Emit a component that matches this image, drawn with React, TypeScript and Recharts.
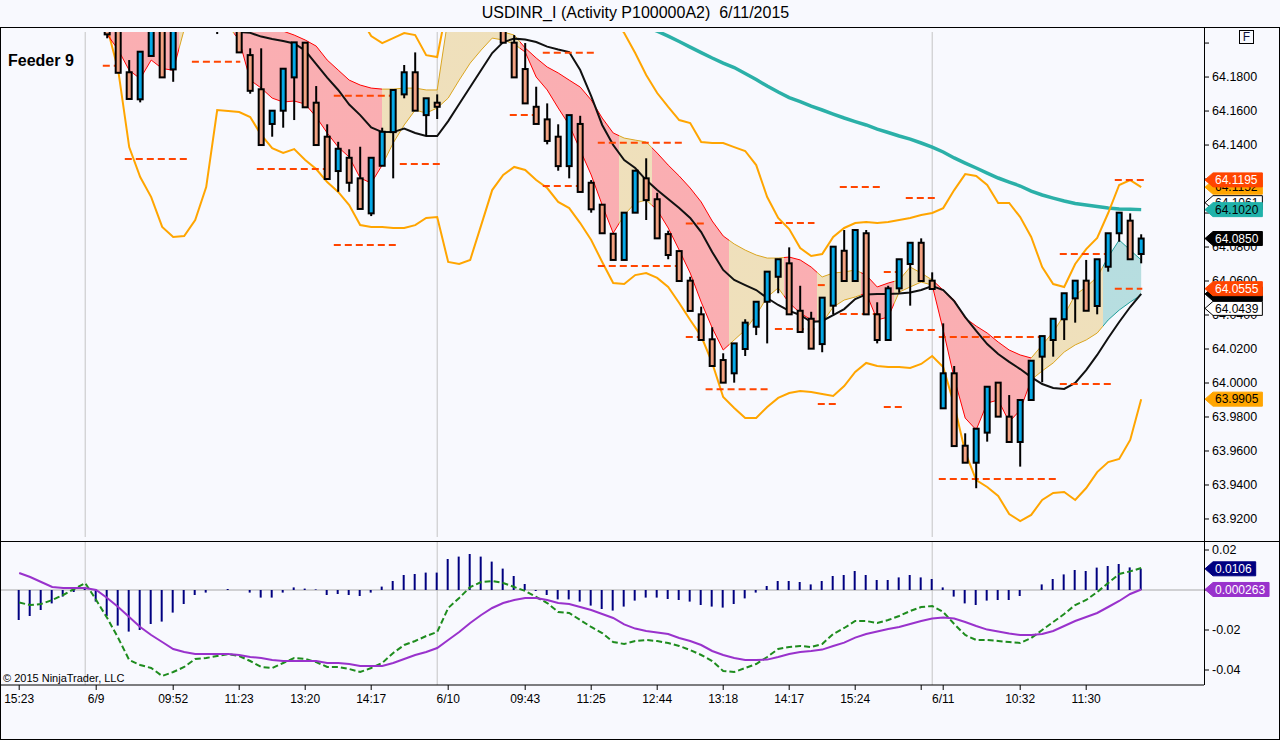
import React from 'react';
import { ComposedChart, Bar, Line, Area, XAxis, YAxis, ReferenceLine, ReferenceDot } from 'recharts';

const FONT = '"Liberation Sans", Arial, Helvetica, sans-serif';

// ---------- categories / ticks ----------
const XTICKS = [0, 7, 14, 20, 26, 32, 39, 46, 52, 58, 64, 70, 76, 82, 84, 91, 97];
const XLABELS = ['15:23', '6/9', '09:52', '11:23', '13:20', '14:17', '6/10', '09:43', '11:25', '12:44', '13:18', '14:17', '15:24', '', '6/11', '10:32', '11:30'];
const SESSION_BREAKS = [6, 38, 83];
const PRICE_TICKS = [64.2, 64.18, 64.16, 64.14, 64.12, 64.1, 64.08, 64.06, 64.04, 64.02, 64.0, 63.98, 63.96, 63.94, 63.92];
// tick values whose labels are fully covered by value tags in the reference
const HIDDEN_PRICE_LABELS = [64.2, 64.12, 64.1];
const MACD_TICKS = [0.02, 0, -0.02, -0.04];

// ---------- candles ----------
const OPEN = [
  64.262, 64.258, 64.252, 64.247, 64.25, 64.254, 64.258, 64.248, 64.229, 64.212,
  64.1828, 64.1669, 64.1924, 64.214, 64.1845, 64.213, 64.218, 64.214, 64.211, 64.213,
  64.216, 64.1929, 64.1728, 64.1524, 64.1602, 64.1798, 64.2002, 64.1649, 64.1449, 64.1247,
  64.1325, 64.1204, 64.0998, 64.1278, 64.1476, 64.1698, 64.1828, 64.1576, 64.1649, 64.215,
  64.222, 64.23, 64.226, 64.219, 64.212, 64.2002, 64.1847, 64.1625, 64.1551, 64.1449,
  64.1276, 64.1524, 64.1178, 64.1049, 64.0878, 64.0724, 64.1002, 64.1204, 64.1081, 64.0876,
  64.0776, 64.0602, 64.0404, 64.0257, 64.0135, 64.0057, 64.02, 64.0331, 64.0478, 64.0625,
  64.0704, 64.0425, 64.0378, 64.0229, 64.0455, 64.0778, 64.06, 64.0881, 64.0404, 64.0253,
  64.0557, 64.07, 64.0825, 64.0602, 63.9851, 64.0057, 63.9631, 63.9531, 63.9708, 64.0002,
  63.9802, 63.9653, 63.99, 64.0155, 64.0253, 64.0375, 64.0498, 64.0602, 64.0453, 64.0684,
  64.0881, 64.0955, 64.0759,
];
const HIGH = [
  64.268, 64.262, 64.256, 64.255, 64.258, 64.262, 64.262, 64.25, 64.232, 64.214,
  64.19, 64.1949, 64.216, 64.217, 64.216, 64.222, 64.225, 64.219, 64.216, 64.22,
  64.219, 64.1969, 64.1969, 64.1602, 64.1849, 64.2004, 64.2004, 64.1747, 64.1522, 64.1419,
  64.1375, 64.139, 64.1325, 64.1502, 64.1724, 64.1871, 64.1945, 64.1675, 64.1698, 64.228,
  64.235, 64.238, 64.232, 64.225, 64.215, 64.2047, 64.2, 64.1743, 64.1645, 64.1522,
  64.1576, 64.1572, 64.1194, 64.1049, 64.0878, 64.1002, 64.1249, 64.1322, 64.1119, 64.0896,
  64.0776, 64.0625, 64.0449, 64.0328, 64.0175, 64.0233, 64.0375, 64.0478, 64.0655, 64.0728,
  64.0798, 64.0572, 64.0419, 64.0502, 64.0802, 64.09, 64.09, 64.09, 64.0475, 64.0572,
  64.0728, 64.0825, 64.0851, 64.0651, 64.0351, 64.01, 63.9704, 63.9731, 63.9978, 64.0002,
  63.9929, 63.99, 64.0131, 64.0276, 64.0378, 64.0528, 64.0602, 64.0724, 64.0728, 64.0881,
  64.1002, 64.0998, 64.0875,
];
const LOW = [
  64.255, 64.248, 64.244, 64.242, 64.246, 64.25, 64.245, 64.226, 64.2028, 64.1825,
  64.1671, 64.1651, 64.1924, 64.1798, 64.1772, 64.209, 64.212, 64.208, 64.2053, 64.209,
  64.1945, 64.1702, 64.14, 64.1449, 64.1502, 64.1547, 64.1622, 64.14, 64.12, 64.1125,
  64.1125, 64.1024, 64.0982, 64.1278, 64.1204, 64.1675, 64.1602, 64.1453, 64.1553, 64.208,
  64.216, 64.222, 64.215, 64.209, 64.2002, 64.1798, 64.1645, 64.1524, 64.1404, 64.1249,
  64.1204, 64.1124, 64.1002, 64.0881, 64.0724, 64.0724, 64.1002, 64.0959, 64.0851, 64.0728,
  64.06, 64.0424, 64.0253, 64.01, 64.0002, 64.0002, 64.0159, 64.0282, 64.0233, 64.0528,
  64.0404, 64.03, 64.0202, 64.0181, 64.0404, 64.06, 64.06, 64.0404, 64.0233, 64.0253,
  64.0531, 64.0455, 64.06, 64.0553, 63.9851, 63.9629, 63.9531, 63.9381, 63.9655, 63.9802,
  63.9653, 63.9508, 63.99, 64.0004, 64.0155, 64.0253, 64.0355, 64.0425, 64.0404, 64.0655,
  64.0831, 64.0728, 64.0704,
];
const CLOSE = [
  64.258, 64.252, 64.247, 64.25, 64.254, 64.258, 64.248, 64.229, 64.2051, 64.1825,
  64.1671, 64.1949, 64.214, 64.1798, 64.213, 64.218, 64.214, 64.211, 64.213, 64.216,
  64.1945, 64.1719, 64.14, 64.1602, 64.1849, 64.2004, 64.1622, 64.14, 64.12, 64.1378,
  64.1178, 64.1024, 64.1325, 64.1478, 64.1724, 64.1828, 64.1602, 64.1675, 64.1625, 64.222,
  64.23, 64.226, 64.219, 64.212, 64.2002, 64.1798, 64.1645, 64.1524, 64.1424, 64.1276,
  64.1576, 64.1124, 64.1022, 64.0881, 64.0724, 64.1002, 64.1249, 64.1076, 64.0851, 64.0753,
  64.06, 64.0424, 64.0253, 64.01, 64.0002, 64.0233, 64.0355, 64.0478, 64.0655, 64.0728,
  64.0404, 64.03, 64.0202, 64.0502, 64.0802, 64.06, 64.09, 64.0404, 64.0253, 64.0557,
  64.0728, 64.0825, 64.06, 64.0553, 64.0057, 63.9629, 63.9531, 63.9731, 63.9978, 63.9802,
  63.9653, 63.99, 64.0131, 64.0276, 64.0378, 64.0528, 64.0602, 64.0425, 64.0728, 64.0881,
  64.1002, 64.0728, 64.085,
];

// ---------- overlays ----------
const N = (n: number) => Array(n).fill(null);
const RIBBON_TOP = [
  ...N(7),
  64.222, 64.215, 64.212, 64.21, 64.208, 64.208, 64.207, 64.207, 64.215, 64.22,
  64.22, 64.22, 64.22, 64.215, 64.211, 64.209, 64.208, 64.207, 64.2047, 64.2018,
  64.1982, 64.19, 64.1841, 64.1782, 64.1753, 64.1735, 64.1729, 64.1729, 64.1735, 64.1735,
  64.1724, 64.1724, 64.215, 64.218, 64.218, 64.215, 64.211, 64.2065, 64.2047, 64.1971,
  64.1912, 64.1859, 64.1824, 64.1782, 64.1741, 64.1665, 64.1559, 64.1471, 64.1441, 64.1429,
  64.1418, 64.1353, 64.1282, 64.1218, 64.1147, 64.1065, 64.0953, 64.0865, 64.0818, 64.0782,
  64.0753, 64.0735, 64.0735, 64.0741, 64.0724, 64.0682, 64.0624, 64.0647, 64.0653, 64.0665,
  64.0635, 64.0565, 64.0588, 64.0606, 64.0682, 64.0647, 64.0606, 64.0547, 64.0488, 64.0382,
  64.0335, 64.0294, 64.0241, 64.0194, 64.0165, 64.0147, 64.0224, 64.03, 64.04, 64.0518,
  64.0565, 64.0624, 64.0741, 64.0841, 64.0782, 64.0724,
];
const RIBBON_BOTTOM = [
  ...N(7),
  64.214, 64.205, 64.196, 64.184, 64.179, 64.19, 64.185, 64.184, 64.208, 64.211,
  64.211, 64.211, 64.21, 64.2018, 64.1782, 64.1735, 64.1676, 64.1653, 64.1659, 64.1641,
  64.1565, 64.1471, 64.1388, 64.1329, 64.1206, 64.1176, 64.1282, 64.1412, 64.1518, 64.1606,
  64.1588, 64.1618, 64.1676, 64.1782, 64.1882, 64.1959, 64.2029, 64.2018, 64.1994, 64.1947,
  64.18, 64.1724, 64.1618, 64.1518, 64.1371, 64.1224, 64.1047, 64.0882, 64.0988, 64.1059,
  64.1076, 64.1018, 64.0912, 64.0782, 64.0647, 64.0476, 64.0324, 64.0194, 64.0253, 64.0312,
  64.04, 64.0506, 64.0559, 64.0471, 64.0412, 64.0371, 64.0353, 64.0447, 64.0488, 64.0506,
  64.0529, 64.0371, 64.0388, 64.0535, 64.0565, 64.0594, 64.0576, 64.0312, 64.0029, 63.9794,
  63.9724, 63.9882, 63.99, 63.9771, 63.9841, 64.0018, 64.0071, 64.0118, 64.0182, 64.0224,
  64.0253, 64.0294, 64.0371, 64.0429, 64.0476, 64.0518,
];
const BAND_UPPER = [
  ...N(31),
  64.215, 64.2041, 64.2, 64.2029, 64.2059, 64.2047, 64.1929, 64.1918, 64.225,
  ...N(14),
  64.215, 64.2059, 64.1941, 64.1812, 64.1706, 64.1624, 64.1547, 64.1529, 64.1418, 64.1412,
  64.1412, 64.1388, 64.1365, 64.1282, 64.1094, 64.0971, 64.0906, 64.0794, 64.0747, 64.0759,
  64.0859, 64.0912, 64.0941, 64.0947, 64.0941, 64.0947, 64.0959, 64.0971, 64.0988, 64.1,
  64.1029, 64.1135, 64.1229, 64.1218, 64.1165, 64.1059, 64.1059, 64.0976, 64.0859, 64.0682,
  64.0582, 64.0565, 64.07, 64.0788, 64.0853, 64.1, 64.1165, 64.1194, 64.1152,
];
const BAND_LOWER = [
  ...N(8),
  64.209, 64.1841, 64.1388, 64.1212, 64.1094, 64.0918, 64.0859, 64.0865, 64.0959, 64.1153,
  64.1606, 64.16, 64.1594, 64.1565, 64.1459, 64.1382, 64.1353, 64.1376, 64.1312, 64.1259,
  64.1182, 64.1124, 64.1047, 64.0929, 64.0918, 64.0918, 64.0912, 64.0912, 64.0929, 64.0971,
  64.0976, 64.0712, 64.07, 64.0724, 64.0929, 64.1135, 64.1224, 64.1271, 64.1253, 64.1194,
  64.1147, 64.1065, 64.1029, 64.0941, 64.0841, 64.0712, 64.0588, 64.0582, 64.0635, 64.0647,
  64.0618, 64.0565, 64.0471, 64.0371, 64.0276, 64.0118, 63.9918, 63.9853, 63.9794, 63.9794,
  63.9859, 63.9912, 63.9941, 63.9953, 63.9947, 63.9935, 63.9924, 63.9982, 64.0065, 64.0118,
  64.01, 64.0094, 64.0094, 64.0088, 64.0112, 64.0159, 64.0094, 63.9871, 63.9594, 63.9429,
  63.9388, 63.9335, 63.9229, 63.9188, 63.9224, 63.9312, 63.9353, 63.9359, 63.9312, 63.9382,
  63.9476, 63.9535, 63.9553, 63.9665, 63.9905,
];
const BLACK_MA = [
  ...N(19),
  64.209, 64.2065, 64.206, 64.2038, 64.2024, 64.2012, 64.1997, 64.1956, 64.1876, 64.1797,
  64.1724, 64.1638, 64.1576, 64.1503, 64.1476, 64.1476, 64.1497, 64.1471, 64.1453, 64.1453,
  64.1541, 64.1641, 64.1741, 64.1841, 64.1941, 64.2006, 64.2026, 64.2021, 64.2006, 64.1979,
  64.1962, 64.1947, 64.1841, 64.1688, 64.1518, 64.14, 64.1312, 64.1265, 64.1194, 64.1135,
  64.1082, 64.1029, 64.0971, 64.0888, 64.0771, 64.0665, 64.0606, 64.0576, 64.0547, 64.05,
  64.0459, 64.0424, 64.04, 64.0359, 64.0365, 64.04, 64.0435, 64.0494, 64.0521, 64.0524,
  64.0524, 64.0526, 64.0532, 64.0547, 64.0571, 64.0547, 64.0482, 64.0388, 64.0306, 64.0229,
  64.0171, 64.0124, 64.0082, 64.0035, 63.9994, 63.9971, 63.9965, 64.0, 64.0076, 64.0165,
  64.0265, 64.0359, 64.0447, 64.0524,
];
const TEAL_MA = [
  ...N(57),
  64.2095, 64.207, 64.2041, 64.2009, 64.1976, 64.1944, 64.1912, 64.1882, 64.1856, 64.1821,
  64.1785, 64.1747, 64.1712, 64.1679, 64.1656, 64.1629, 64.1606, 64.1582, 64.1559, 64.1538,
  64.1518, 64.1494, 64.1474, 64.1453, 64.1435, 64.1412, 64.1388, 64.1359, 64.1324, 64.1294,
  64.1265, 64.1235, 64.1206, 64.1182, 64.1159, 64.1129, 64.1106, 64.1088, 64.1071, 64.1056,
  64.1047, 64.1038, 64.1029, 64.1024, 64.1022, 64.102,
];

// dashed price levels: [fromBar, toBar, price]
const LEVELS: [number, number, number][] = [
  [7.6, 9.2, 64.1866], [15.7, 20.1, 64.189], [9.6, 15.3, 64.1318], [21.6, 28.2, 64.1259],
  [28.6, 34.4, 64.0812], [28.6, 34.0, 64.169], [34.6, 38.4, 64.1288], [44.6, 47.3, 64.1576],
  [47.6, 52.6, 64.1943], [47.6, 51.4, 64.1159], [52.6, 60.3, 64.1414], [52.6, 59.8, 64.0688],
  [60.6, 62.5, 64.0938], [60.6, 62.5, 64.0271], [62.4, 68.3, 63.9963], [68.7, 72.3, 64.0941],
  [68.7, 72.3, 64.0318], [72.6, 74.4, 63.9876], [72.6, 73.5, 64.0576], [74.6, 78.4, 64.1153],
  [74.6, 78.4, 64.0406], [78.6, 79.8, 64.0653], [78.6, 80.3, 63.9859], [80.6, 83.4, 64.0312],
  [80.6, 83.4, 64.1088], [83.6, 92.8, 64.0271], [83.6, 94.4, 63.9435], [94.6, 99.4, 64.0759],
  [94.6, 99.4, 63.9994], [99.6, 102.1, 64.0555], [99.6, 102.4, 64.1195],
];

// ---------- lower panel ----------
const HIST = [
  -0.015, -0.013, -0.01, -0.0067, -0.0033, -0.001, 0.001, -0.0058, -0.013, -0.0178,
  -0.0208, -0.02, -0.017, -0.0158, -0.0113, -0.007, -0.0025, -0.0013, 0, 0.0005,
  0, -0.0013, -0.0038, -0.0038, -0.0013, 0.0013, 0.0007, 0.0003, -0.0025, -0.002,
  -0.0025, -0.003, -0.0013, 0.0017, 0.0045, 0.0075, 0.008, 0.0087, 0.0087, 0.0155,
  0.0167, 0.018, 0.0167, 0.0142, 0.0107, 0.007, 0.003, -0.0005, -0.0025, -0.0047,
  -0.0047, -0.0058, -0.0078, -0.0095, -0.0103, -0.0083, -0.0053, -0.0038, -0.0038, -0.0045,
  -0.005, -0.0058, -0.0075, -0.0083, -0.0088, -0.007, -0.0042, -0.0013, 0.002, 0.0045,
  0.0045, 0.004, 0.0028, 0.0045, 0.007, 0.0075, 0.0095, 0.0075, 0.005, 0.005,
  0.0063, 0.0075, 0.0063, 0.0055, 0.0013, -0.0033, -0.0067, -0.0075, -0.0053, -0.005,
  -0.005, -0.003, 0, 0.0028, 0.0055, 0.0078, 0.01, 0.0095, 0.0112, 0.012,
  0.013, 0.0113, 0.0106,
];
const MACD = [
  -0.0063, -0.0075, -0.007, -0.005, -0.0025, 0.0005, 0.0035, -0.005, -0.014, -0.024,
  -0.035, -0.0375, -0.039, -0.043, -0.041, -0.0385, -0.0345, -0.034, -0.033, -0.032,
  -0.033, -0.0355, -0.0385, -0.039, -0.0365, -0.034, -0.0345, -0.036, -0.0385, -0.0385,
  -0.0395, -0.041, -0.039, -0.0365, -0.0315, -0.0275, -0.0255, -0.023, -0.021, -0.009,
  -0.004, 0.0015, 0.004, 0.0045, 0.0035, 0.0015, -0.0005, -0.0035, -0.0065, -0.011,
  -0.0115, -0.015, -0.0185, -0.0215, -0.026, -0.027, -0.0255, -0.025, -0.0255, -0.0265,
  -0.028, -0.03, -0.0325, -0.0355, -0.0405, -0.041, -0.039, -0.037, -0.0335, -0.0295,
  -0.0285, -0.028, -0.0285, -0.027, -0.022, -0.019, -0.0155, -0.0155, -0.0165, -0.015,
  -0.013, -0.0105, -0.0085, -0.008, -0.011, -0.017, -0.0225, -0.025, -0.025, -0.0255,
  -0.026, -0.0265, -0.024, -0.02, -0.016, -0.012, -0.0075, -0.005, -0.001, 0.0035,
  0.008, 0.0093, 0.011,
];
const SIGNAL = [
  0.0085, 0.0065, 0.004, 0.0015, 0.001, 0.001, 0.001, 0, -0.004, -0.0085,
  -0.0135, -0.0185, -0.0225, -0.026, -0.0295, -0.031, -0.032, -0.032, -0.032, -0.032,
  -0.0325, -0.0335, -0.034, -0.035, -0.0355, -0.0355, -0.0355, -0.0355, -0.0365, -0.0365,
  -0.037, -0.038, -0.038, -0.038, -0.0365, -0.0345, -0.0325, -0.031, -0.029, -0.025,
  -0.021, -0.0165, -0.0125, -0.009, -0.0065, -0.005, -0.004, -0.004, -0.005, -0.0065,
  -0.007, -0.0085, -0.01, -0.012, -0.014, -0.0172, -0.0193, -0.0205, -0.0213, -0.022,
  -0.024, -0.0255, -0.0275, -0.0305, -0.0325, -0.034, -0.035, -0.035, -0.0348, -0.0335,
  -0.032, -0.031, -0.0305, -0.0298, -0.028, -0.0263, -0.0238, -0.022, -0.0208, -0.0195,
  -0.0185, -0.017, -0.0155, -0.0143, -0.0138, -0.0143, -0.016, -0.018, -0.0198, -0.0208,
  -0.0218, -0.0225, -0.0225, -0.022, -0.0205, -0.018, -0.0155, -0.0135, -0.0115, -0.0085,
  -0.0055, -0.002, 0.000263,
];

// right-axis value tags (drawn in this order)
const PRICE_TAGS = [
  { v: 64.1152, label: '64.1152', bg: '#FFA500', fg: '#000', border: '#FFA500' },
  { v: 64.1195, label: '64.1195', bg: '#FF4500', fg: '#FFF', border: '#FF4500' },
  { v: 64.1061, label: '64.1061', bg: '#FFFFFF', fg: '#000', border: '#000' },
  { v: 64.102, label: '64.1020', bg: '#20B2AA', fg: '#000', border: '#20B2AA' },
  { v: 64.085, label: '64.0850', bg: '#000000', fg: '#FFF', border: '#000' },
  { v: 64.0524, label: '', bg: '#000000', fg: '#FFF', border: '#000' },
  { v: 64.0555, label: '64.0555', bg: '#FF4500', fg: '#FFF', border: '#FF4500' },
  { v: 64.0439, label: '64.0439', bg: '#FFFFFF', fg: '#000', border: '#000' },
  { v: 63.9905, label: '63.9905', bg: '#FFA500', fg: '#000', border: '#FFA500' },
];
const MACD_TAGS = [
  { v: 0.0106, label: '0.0106', bg: '#000080', fg: '#FFF', border: '#000080' },
  { v: 0.000263, label: '0.000263', bg: '#9932CC', fg: '#FFF', border: '#9932CC' },
];

// ribbon colour by bar region (style)
const RIBBON_SEGMENTS: [number, string][] = [
  [-2, '#FF0000'], [14.5, '#DAA520'], [19.5, '#FF0000'], [33, '#DAA520'], [45.5, '#FF0000'],
  [54.5, '#DAA520'], [57.5, '#FF0000'], [64.5, '#DAA520'], [69.5, '#FF0000'], [72.5, '#DAA520'],
  [76.5, '#FF0000'], [79.5, '#DAA520'], [83, '#FF0000'], [92, '#DAA520'], [98.5, '#1F9E9A'],
];

// ---------- layout constants ----------
const W = 1280;
const AXIS_W = 76;
const PLOT_W = W - AXIS_W; // 1204
const X0 = -1.745;
const X1 = 107.71;
const P_MAX = 64.2065;
const P_MIN = 63.9094;
const M_MAX = 0.0245;
const M_MIN = -0.0475;
const SALMON = '#F3A282';
const BLUE = '#05A8E6';
const TAG_FS = 12;
const TICK_FS = 12.5;

const rows = OPEN.map((o, i) => ({
  i,
  o,
  h: HIGH[i],
  l: LOW[i],
  c: CLOSE[i],
  rt: RIBBON_TOP[i],
  rb: RIBBON_BOTTOM[i],
  up: BAND_UPPER[i],
  lo: BAND_LOWER[i],
  bk: BLACK_MA[i],
  tl: TEAL_MA[i],
  hist: HIST[i],
  macd: MACD[i],
  sig: SIGNAL[i],
}));

const frac = (v: number) => Math.max(0, Math.min(1, (v - X0) / (X1 - X0)));

function gradientStops(opacity: number) {
  const out: React.ReactElement[] = [];
  RIBBON_SEGMENTS.forEach(([start, color], k) => {
    const end = k + 1 < RIBBON_SEGMENTS.length ? RIBBON_SEGMENTS[k + 1][0] : X1;
    out.push(<stop key={k + 'a'} offset={frac(start)} stopColor={color} stopOpacity={opacity} />);
    out.push(<stop key={k + 'b'} offset={frac(end)} stopColor={color} stopOpacity={opacity} />);
  });
  return out;
}

const Candle = (props: any) => {
  const { x, y, width, height, payload } = props;
  if (!payload || x == null || y == null) return null;
  const top = Math.min(y, y + height);
  const bot = Math.max(y, y + height);
  const cx = x + width / 2;
  const range = payload.h - payload.l;
  const k = range > 0 ? (bot - top) / range : 0;
  const yO = top + (payload.h - payload.o) * k;
  const yC = top + (payload.h - payload.c) * k;
  const bTop = Math.min(yO, yC);
  const bH = Math.max(Math.abs(yO - yC), 1.5);
  const isUp = payload.c >= payload.o;
  return (
    <g>
      <line x1={cx} x2={cx} y1={top} y2={bot} stroke="#000" strokeWidth={2} />
      <rect x={cx - 2.5} y={bTop} width={5} height={bH} fill={isUp ? BLUE : SALMON} stroke="#000" strokeWidth={2} />
    </g>
  );
};

const charW = (s: string, fs: number) =>
  s.split('').reduce((a, ch) => a + (ch === '.' ? 0.278 : ch === '-' ? 0.333 : 0.556), 0) * fs;

const tagShape = (t: any) => (props: any) => {
  const { cx, cy } = props;
  if (cx == null || cy == null) return <g />;
  const x0 = cx + 1;
  const x1 = x0 + 10 + charW(t.label || '64.0000', TAG_FS) + 4;
  const h = 7;
  const pts = `${x0},${cy} ${x0 + 8},${cy - h} ${x1},${cy - h} ${x1},${cy + h} ${x0 + 8},${cy + h}`;
  return (
    <g>
      <polygon points={pts} fill={t.bg} stroke={t.border} strokeWidth={1} />
      {t.label ? (
        <text x={x0 + 10} y={cy + 4.3} fontSize={TAG_FS} fontFamily={FONT} fill={t.fg}>
          {t.label}
        </text>
      ) : null}
    </g>
  );
};

const fmtPrice = (v: number) =>
  HIDDEN_PRICE_LABELS.some((h) => Math.abs(h - v) < 1e-6) ? '' : v.toFixed(4);
// the zero label sits under the signal tag in the reference
const fmtMacd = (v: number) => (v === 0 ? '' : String(v));
const fmtX = (v: number) => {
  const k = XTICKS.indexOf(v);
  return k >= 0 ? XLABELS[k] : '';
};

export default function App() {
  const line = (key: string, color: string, width: number, z: number, extra: any = {}) => (
    <Line
      key={key}
      dataKey={key}
      type="linear"
      stroke={color}
      strokeWidth={width}
      dot={false}
      activeDot={false}
      isAnimationActive={false}
      connectNulls={false}
      zIndex={z}
      {...extra}
    />
  );

  return (
    <div
      style={{
        position: 'absolute',
        left: 0,
        top: 0,
        width: W,
        height: 740,
        background: '#F8F9FE',
        fontFamily: FONT,
        overflow: 'hidden',
      }}
    >
      {/* price panel */}
      <div style={{ position: 'absolute', left: 0, top: 0 }}>
        <ComposedChart width={W} height={537} data={rows} margin={{ top: 32, right: 0, bottom: 0, left: 0 }}>
          <defs>
            <linearGradient id="ribStroke" gradientUnits="userSpaceOnUse" x1={0} y1={0} x2={PLOT_W} y2={0}>
              {gradientStops(1)}
            </linearGradient>
            <linearGradient id="ribFill" gradientUnits="userSpaceOnUse" x1={0} y1={0} x2={PLOT_W} y2={0}>
              {gradientStops(0.5)}
            </linearGradient>
          </defs>
          <XAxis type="number" dataKey="i" domain={[X0, X1]} allowDataOverflow hide />
          <YAxis
            orientation="right"
            domain={[P_MIN, P_MAX]}
            allowDataOverflow
            ticks={PRICE_TICKS}
            interval={0}
            width={AXIS_W}
            axisLine={false}
            tickLine={{ stroke: '#000' }}
            tickSize={5}
            tickMargin={3}
            tick={{ fill: '#000', fontSize: TICK_FS, fontFamily: FONT }}
            tickFormatter={fmtPrice}
          />
          {SESSION_BREAKS.map((s) => (
            <ReferenceLine key={'s' + s} x={s} stroke="#C4C4C4" strokeWidth={1} zIndex={1} />
          ))}
          {line('tl', '#2BB0A8', 3.5, 10)}
          {line('up', '#FFA500', 2, 11)}
          {line('lo', '#FFA500', 2, 11)}
          <Area
            dataKey={(d: any) => (d.rt == null ? null : [d.rb, d.rt])}
            type="linear"
            fill="url(#ribFill)"
            stroke="none"
            isAnimationActive={false}
            activeDot={false}
            zIndex={12}
          />
          {line('rt', 'url(#ribStroke)', 1, 13)}
          {line('rb', 'url(#ribStroke)', 1, 13)}
          {line('bk', '#111111', 2, 14)}
          {LEVELS.map(([a, b, v], k) => (
            <ReferenceLine
              key={'lv' + k}
              segment={[{ x: a, y: v }, { x: b, y: v }]}
              stroke="#FF4500"
              strokeWidth={2}
              strokeDasharray="7 4"
              zIndex={15}
            />
          ))}
          <Bar
            dataKey={(d: any) => [d.l, d.h]}
            barSize={7}
            shape={Candle}
            isAnimationActive={false}
            zIndex={20}
          />
          {PRICE_TAGS.map((t, k) => (
            <ReferenceDot
              key={'pt' + k}
              x={X1}
              y={t.v}
              r={0}
              ifOverflow="visible"
              shape={tagShape(t)}
              zIndex={3000 + k}
            />
          ))}
        </ComposedChart>
      </div>

      {/* oscillator panel */}
      <div style={{ position: 'absolute', left: 0, top: 541 }}>
        <ComposedChart width={W} height={198} data={rows} margin={{ top: 0, right: 0, bottom: 0, left: 0 }}>
          <XAxis
            type="number"
            dataKey="i"
            domain={[X0, X1]}
            allowDataOverflow
            ticks={XTICKS}
            interval={0}
            tickFormatter={fmtX}
            height={54}
            axisLine={{ stroke: '#000' }}
            tickLine={{ stroke: '#000' }}
            tickSize={5}
            tickMargin={4}
            tick={{ fill: '#000', fontSize: 12, fontFamily: FONT }}
          />
          <YAxis
            orientation="right"
            domain={[M_MIN, M_MAX]}
            allowDataOverflow
            ticks={MACD_TICKS}
            interval={0}
            width={AXIS_W}
            axisLine={false}
            tickLine={{ stroke: '#000' }}
            tickSize={5}
            tickMargin={3}
            tick={{ fill: '#000', fontSize: TICK_FS, fontFamily: FONT }}
            tickFormatter={fmtMacd}
          />
          {SESSION_BREAKS.map((s) => (
            <ReferenceLine key={'ms' + s} x={s} stroke="#C4C4C4" strokeWidth={1} zIndex={1} />
          ))}
          <ReferenceLine y={0} stroke="#A8A8A8" strokeWidth={1} zIndex={2} />
          <Bar dataKey="hist" barSize={2} fill="#000080" isAnimationActive={false} zIndex={10} />
          {line('macd', '#1E8C1E', 2, 12, { strokeDasharray: '6 3' })}
          {line('sig', '#9932CC', 2, 13)}
          {MACD_TAGS.map((t, k) => (
            <ReferenceDot
              key={'mt' + k}
              x={X1}
              y={t.v}
              r={0}
              ifOverflow="visible"
              shape={tagShape(t)}
              zIndex={3000 + k}
            />
          ))}
        </ComposedChart>
      </div>

      {/* frame */}
      <div style={{ position: 'absolute', left: 0, top: 27, width: W, height: 713, border: '1px solid #000', boxSizing: 'border-box', pointerEvents: 'none' }} />
      <div style={{ position: 'absolute', left: 0, top: 541, width: W, height: 1, background: '#000' }} />
      <div style={{ position: 'absolute', left: PLOT_W, top: 27, width: 1, height: 658, background: '#000' }} />

      {/* texts */}
      <div style={{ position: 'absolute', left: 0, top: 4, width: 1271, textAlign: 'center', fontSize: 16, lineHeight: '18px', whiteSpace: 'pre', color: '#000' }}>
        {'USDINR_I (Activity P100000A2)  6/11/2015'}
      </div>
      <div style={{ position: 'absolute', left: 8, top: 52, fontSize: 16, lineHeight: '18px', fontWeight: 'bold', color: '#000' }}>
        Feeder 9
      </div>
      <div style={{ position: 'absolute', left: 1239, top: 30, width: 15, height: 14, border: '1px solid #000', boxSizing: 'border-box', fontSize: 12, lineHeight: '12px', textAlign: 'center', color: '#101040' }}>
        F
      </div>
      <div style={{ position: 'absolute', left: 3, top: 672, fontSize: 11, lineHeight: '13px', color: '#000' }}>
        © 2015 NinjaTrader, LLC
      </div>
    </div>
  );
}
